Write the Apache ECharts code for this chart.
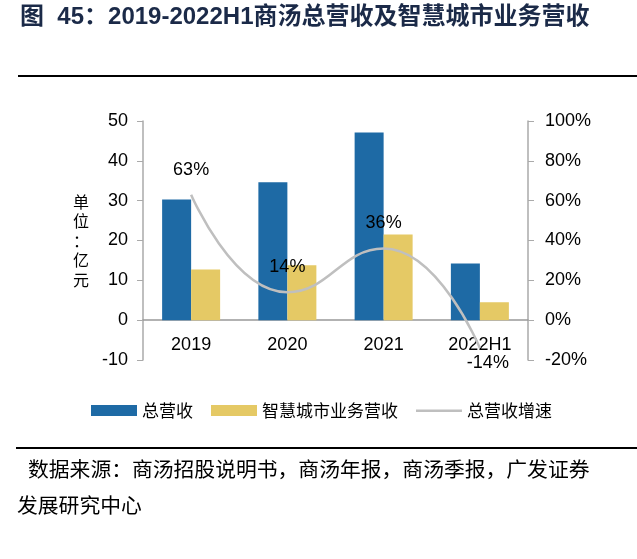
<!DOCTYPE html>
<html><head><meta charset="utf-8">
<script src="https://cdn.jsdelivr.net/npm/echarts@6/dist/echarts.min.js"></script>
<style>html,body{margin:0;padding:0;background:#fff}#c{width:637px;height:559px}</style>
</head><body><div id="c"></div>
<script>
const categories = ['2019', '2020', '2021', '2022H1'];
const totalRevenue = [30.3, 34.6, 47.1, 14.2];
const smartCityRevenue = [12.7, 13.8, 21.5, 4.5];
const totalGrowth = [63, 14, 36, -14];
const leftTicks = { min: -10, max: 50, interval: 10 };
const rightTicks = { min: -20, max: 100, interval: 20 };

const chart = echarts.init(document.getElementById('c'));
const numFont = 'Liberation Sans, Arial, sans-serif';
const growthData = totalGrowth.map(function (v, i) {
  if (v < 0) {
    return { value: v, label: { position: 'bottom', distance: 6, offset: [8, 0] } };
  }
  return { value: v };
});
const lineIcon = 'path://M0,0L46,0L46,0.01L0,0.01Z M0,4.5L46,4.5L46,7L0,7Z M0,11L46,11L46,11.01L0,11.01Z';
chart.setOption({
  animation: false,
  grid: { left: 143, right: 109, top: 121, bottom: 199, containLabel: false },
  legend: {
    top: 397, left: 86, itemWidth: 46, itemHeight: 11, itemGap: 18,
    textStyle: { fontFamily: 'Noto Sans CJK SC', fontSize: 17, color: '#000' },
    data: [
      { name: '总营收', icon: 'rect' },
      { name: '智慧城市业务营收', icon: 'rect' },
      { name: '总营收增速', icon: lineIcon, itemStyle: { color: '#bfbfbf' } }
    ]
  },
  xAxis: {
    type: 'category', data: categories,
    axisLine: { onZero: true, lineStyle: { color: '#999', width: 1.5 } },
    axisTick: { show: false },
    axisLabel: { margin: -24, fontFamily: numFont, fontSize: 18, color: '#000' }
  },
  yAxis: [
    {
      type: 'value', min: leftTicks.min, max: leftTicks.max, interval: leftTicks.interval,
      axisLine: { show: true, lineStyle: { color: '#aaa', width: 1.5 } },
      axisTick: { show: true, length: 6, lineStyle: { color: '#aaa' } },
      splitLine: { show: false },
      axisLabel: { margin: 15, fontFamily: numFont, fontSize: 18, color: '#000' }
    },
    {
      type: 'value', min: rightTicks.min, max: rightTicks.max, interval: rightTicks.interval,
      position: 'right',
      axisLine: { show: true, lineStyle: { color: '#aaa', width: 1.5 } },
      axisTick: { show: true, length: 6, lineStyle: { color: '#aaa' } },
      splitLine: { show: false },
      axisLabel: { margin: 17, formatter: '{value}%', fontFamily: numFont, fontSize: 18, color: '#000' }
    }
  ],
  series: [
    {
      name: '总营收', type: 'bar', data: totalRevenue, barWidth: 29, barGap: '0%',
      itemStyle: { color: '#1e6aa5' }
    },
    {
      name: '智慧城市业务营收', type: 'bar', data: smartCityRevenue, barWidth: 29,
      itemStyle: { color: '#e5c965' }
    },
    {
      name: '总营收增速', type: 'line', yAxisIndex: 1, data: growthData, smooth: 0.5,
      symbol: 'circle', symbolSize: 0.1, showSymbol: true,
      lineStyle: { color: '#bfbfbf', width: 2.5 }, itemStyle: { color: '#bfbfbf' },
      z: 5,
      label: {
        show: true, formatter: '{c}%', fontFamily: numFont,
        fontSize: 18, color: '#000', position: 'top', distance: 16
      }
    }
  ],
  graphic: [
    { type: 'text', left: 20, top: 5, style: { text: '图  45：2019-2022H1商汤总营收及智慧城市业务营收', font: 'bold 24px "Liberation Sans", "Noto Sans CJK SC"', fill: '#1b2a48' } },
    { type: 'rect', shape: { x: 18, y: 75, width: 619, height: 2 }, style: { fill: '#000' } },
    { type: 'rect', shape: { x: 16, y: 447, width: 621, height: 2 }, style: { fill: '#000' } },
    { type: 'text', left: 73, top: 192, style: { text: '单\n位\n：\n亿\n元', font: '16px "Noto Sans CJK SC"', lineHeight: 19.5, fill: '#000' } },
    { type: 'text', left: 28, top: 459, style: { text: '数据来源：商汤招股说明书，商汤年报，商汤季报，广发证券', font: '20.8px "Noto Sans CJK SC"', fill: '#000' } },
    { type: 'text', left: 17, top: 495, style: { text: '发展研究中心', font: '20.8px "Noto Sans CJK SC"', fill: '#000' } }
  ]
});
</script></body></html>
